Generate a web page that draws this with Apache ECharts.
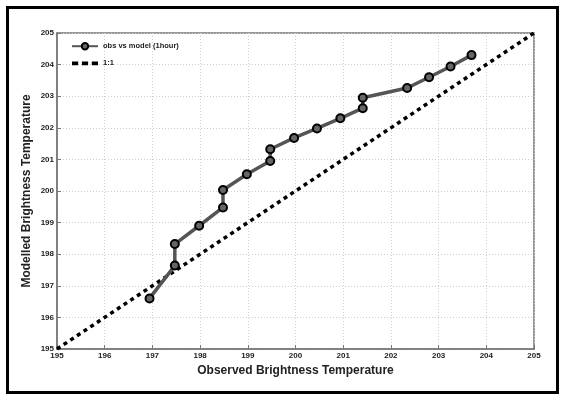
<!DOCTYPE html>
<html><head><meta charset="utf-8">
<script src="https://cdn.jsdelivr.net/npm/echarts@6/dist/echarts.min.js"></script>
<style>html,body{margin:0;padding:0;background:#fff}#c{width:565px;height:400px}</style>
</head><body><div id="c"></div>
<script>
const obsX = [196.94,197.47,197.47,197.98,198.48,198.48,198.98,199.47,199.47,199.97,200.45,200.94,201.41,201.41,202.34,202.8,203.25,203.69];
const modelY = [196.6,197.64,198.32,198.9,199.48,200.03,200.53,200.95,201.32,201.68,201.98,202.3,202.62,202.95,203.26,203.6,203.94,204.3];
const oneToOneX = [195,205];
const oneToOneY = [195,205];
const seriesNames = ['obs vs model (1hour)','1:1'];
const xTitle = 'Observed Brightness Temperature';
const yTitle = 'Modelled Brightness Temperature';

const chart = echarts.init(document.getElementById('c'), null, {renderer:'canvas'});
const lblFont = {fontFamily:'Liberation Sans, Arial', fontSize:8, fontWeight:'bold', color:'#222'};
const split = {show:true, lineStyle:{color:'#cfcfcf', type:[1,2], width:1}};
chart.setOption({
  backgroundColor:'#fff',
  animation:false,
  graphic:[{type:'rect', shape:{x:7.5,y:7.5,width:550,height:385}, style:{fill:'none', stroke:'#000', lineWidth:3}}],
  grid:{left:57, right:31, top:33, bottom:51, show:true, borderColor:'#777', borderWidth:1.5, containLabel:false, outerBoundsMode:'none'},
  legend:{
    orient:'vertical', left:66, top:37, itemWidth:26, itemHeight:8, itemGap:9,
    textStyle:Object.assign({}, lblFont, {fontSize:7.5}),
    data:[{name:seriesNames[0]},
          {name:seriesNames[1], icon:'path://M0,0h5v3h-5z M8,0h5v3h-5z M16,0h5v3h-5z', itemStyle:{color:'#000'}}]
  },
  xAxis:{type:'value', min:195, max:205, interval:1,
    axisLine:{show:true, lineStyle:{color:'#777', width:1.5}},
    axisTick:{show:true, inside:true, length:4, lineStyle:{color:'#777'}},
    axisLabel:Object.assign({margin:3}, lblFont),
    splitLine:split,
    name:xTitle, nameLocation:'middle', nameGap:16, nameMoveOverlap:false,
    nameTextStyle:{fontFamily:'Liberation Sans, Arial', fontSize:12, fontWeight:'bold', color:'#222'}
  },
  yAxis:{type:'value', min:195, max:205, interval:1,
    axisLine:{show:true, lineStyle:{color:'#777', width:1.5}},
    axisTick:{show:true, inside:true, length:4, lineStyle:{color:'#777'}},
    axisLabel:Object.assign({margin:3}, lblFont),
    splitLine:split,
    name:yTitle, nameLocation:'middle', nameGap:24, nameMoveOverlap:false,
    nameTextStyle:{fontFamily:'Liberation Sans, Arial', fontSize:12, fontWeight:'bold', color:'#222'}
  },
  series:[
    {name:seriesNames[0], type:'line', data:obsX.map((x,i)=>[x,modelY[i]]),
      lineStyle:{color:'#555', width:3.5}, itemStyle:{color:'#666', borderColor:'#000', borderWidth:2},
      symbol:'circle', symbolSize:8, showSymbol:true, z:3},
    {name:seriesNames[1], type:'line', data:oneToOneX.map((x,i)=>[x,oneToOneY[i]]),
      lineStyle:{color:'#000', width:3.5, type:[4,4]}, itemStyle:{color:'#000'},
      symbol:'none', z:2}
  ]
});
</script></body></html>
